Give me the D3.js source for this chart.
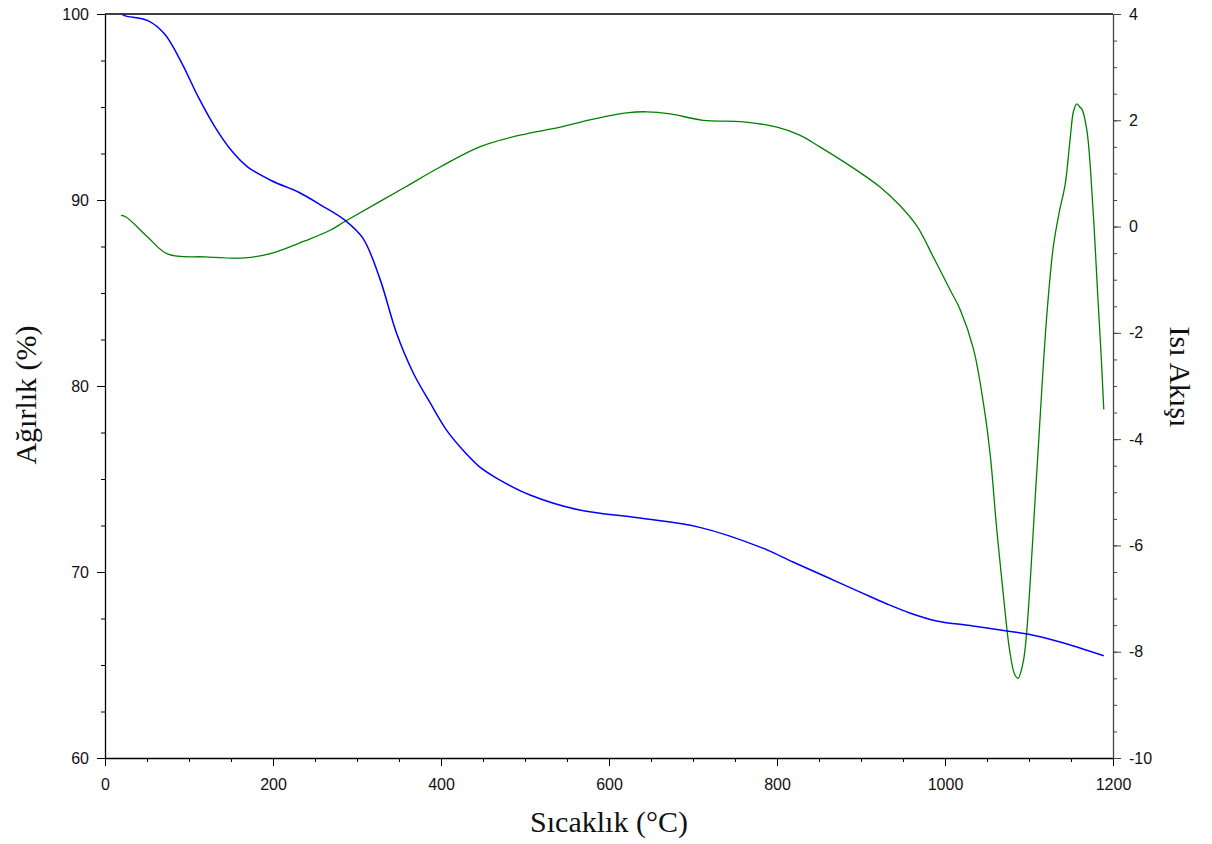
<!DOCTYPE html>
<html>
<head>
<meta charset="utf-8">
<script src="https://cdn.jsdelivr.net/npm/d3@7"></script>
<style>
  body { margin: 0; background: #fff; }
  .tick text { font-family: "Liberation Sans", Arial, sans-serif; font-size: 16px; fill: #111; }
  .title { font-family: "Liberation Serif", "Times New Roman", serif; font-size: 30px; fill: #111; }
</style>
</head>
<body>
<svg id="chart" width="1212" height="844"></svg>
<script>
// Weight (TGA) curve
const tempWeight = [20, 24, 51, 71, 92, 111, 131, 151, 170, 199, 230, 258, 286, 307, 327, 347, 367, 387, 407, 426, 446, 466, 506, 565, 637, 708, 780, 819, 859, 899, 931, 958, 990, 1033, 1074, 1098, 1137, 1189];
const weight = [100.0, 99.9, 99.64, 98.92, 97.31, 95.54, 93.92, 92.63, 91.77, 91.02, 90.43, 89.7, 88.9, 87.95, 85.8, 82.85, 80.7, 79.1, 77.6, 76.56, 75.65, 75.05, 74.14, 73.33, 72.9, 72.4, 71.34, 70.54, 69.73, 68.92, 68.28, 67.8, 67.37, 67.1, 66.83, 66.67, 66.24, 65.5];

// Heat flow (DTA) curve
const tempHeat = [19, 25, 51, 75, 119, 167, 199, 238, 268, 286, 357, 399, 446, 494, 542, 581, 621, 645, 673, 712, 760, 800, 827, 851, 891, 923, 946, 967, 986, 1006, 1018, 1034, 1046, 1054, 1061, 1069, 1077, 1083, 1087, 1093, 1097, 1109, 1121, 1129, 1136, 1143, 1149, 1153, 1157, 1161, 1163, 1169, 1176, 1182, 1186, 1189];
const heatFlow = [0.21, 0.18, -0.2, -0.52, -0.57, -0.59, -0.5, -0.27, -0.07, 0.1, 0.74, 1.12, 1.5, 1.72, 1.87, 2.02, 2.14, 2.16, 2.12, 2.0, 1.97, 1.87, 1.72, 1.5, 1.1, 0.74, 0.4, 0.0, -0.57, -1.19, -1.56, -2.31, -3.35, -4.32, -5.59, -6.86, -7.98, -8.43, -8.5, -8.2, -7.68, -4.69, -1.71, -0.37, 0.27, 0.79, 1.65, 2.17, 2.31, 2.24, 2.21, 1.8, 0.38, -1.34, -2.46, -3.44];

const xTicks = [0, 200, 400, 600, 800, 1000, 1200];
const yLeftTicks = [60, 70, 80, 90, 100];
const yRightTicks = [-10, -8, -6, -4, -2, 0, 2, 4];

const margin = {top: 14, left: 105, right: 99, bottom: 86};
const width = 1212, height = 844;
const plotW = width - margin.left - margin.right;
const plotH = height - margin.top - margin.bottom;

const svg = d3.select('#chart');
const g = svg.append('g').attr('transform', `translate(${margin.left},${margin.top})`);

const x = d3.scaleLinear().domain([0, 1200]).range([0, plotW]);
const yL = d3.scaleLinear().domain([60, 100]).range([plotH, 0]);
const yR = d3.scaleLinear().domain([-10, 4]).range([plotH, 0]);
const plain = d => String(d);

// minor ticks first
g.append('g').attr('transform', `translate(0,${plotH})`)
  .call(d3.axisBottom(x).tickValues(d3.range(0, 1201, 50)).tickSize(4).tickFormat('').tickSizeOuter(0))
  .call(a => a.select('.domain').remove());
g.append('g')
  .call(d3.axisLeft(yL).tickValues(d3.range(60, 100.1, 2.5)).tickSize(4).tickFormat('').tickSizeOuter(0))
  .call(a => a.select('.domain').remove());
g.append('g').attr('transform', `translate(${plotW},0)`)
  .call(d3.axisRight(yR).tickValues(d3.range(-10, 4.01, 0.5)).tickSize(4).tickFormat('').tickSizeOuter(0))
  .call(a => a.select('.domain').remove())
  .selectAll('line').attr('stroke', '#444');

// major axes
g.append('g').attr('transform', `translate(0,${plotH})`)
  .call(d3.axisBottom(x).tickValues(xTicks).tickFormat(plain).tickSize(8).tickPadding(13).tickSizeOuter(0))
  .call(a => a.select('.domain').attr('stroke-width', 1.3));
g.append('g')
  .call(d3.axisLeft(yL).tickValues(yLeftTicks).tickFormat(plain).tickSize(8).tickPadding(8).tickSizeOuter(0))
  .call(a => a.select('.domain').attr('stroke-width', 1.3));
const right = g.append('g').attr('transform', `translate(${plotW},0)`)
  .call(d3.axisRight(yR).tickValues(yRightTicks).tickFormat(plain).tickSize(8).tickPadding(8).tickSizeOuter(0));
right.select('.domain').attr('stroke', '#444').attr('stroke-width', 1.3);
right.selectAll('.tick line').attr('stroke', '#444');

// top frame line
g.append('line').attr('x1', 0).attr('x2', plotW).attr('y1', 0).attr('y2', 0)
  .attr('stroke', '#000').attr('stroke-width', 1.3);

// curves (smooth through the read points)
const smooth = d3.curveCatmullRom.alpha(0.5);
const lineW = d3.line().x((d, i) => x(tempWeight[i])).y(d => yL(d)).curve(smooth);
const lineH = d3.line().x((d, i) => x(tempHeat[i])).y(d => yR(d)).curve(smooth);

g.append('path').attr('d', lineH(heatFlow))
  .attr('fill', 'none').attr('stroke', '#008000').attr('stroke-width', 1.3);
g.append('path').attr('d', lineW(weight))
  .attr('fill', 'none').attr('stroke', '#0000ff').attr('stroke-width', 1.5);

// titles
svg.append('text').attr('class', 'title')
  .attr('x', margin.left + plotW / 2).attr('y', 832)
  .attr('text-anchor', 'middle').text('Sıcaklık (°C)');
svg.append('text').attr('class', 'title')
  .attr('transform', 'translate(36,395) rotate(-90)')
  .attr('text-anchor', 'middle').text('Ağırlık (%)');
svg.append('text').attr('class', 'title')
  .attr('transform', 'translate(1170,377) rotate(90)')
  .attr('text-anchor', 'middle').text('Isı Akışı');
</script>
</body>
</html>
